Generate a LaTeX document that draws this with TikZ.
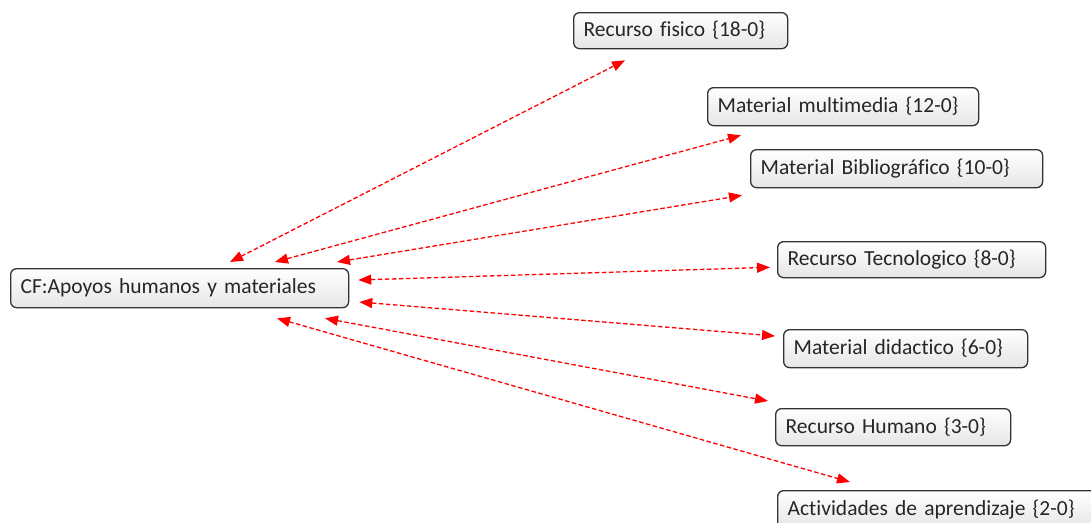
\documentclass[tikz,border=0pt]{standalone}
\usepackage{fontspec}
\setmainfont{Carlito}[Ligatures={NoCommon}]
\usetikzlibrary{arrows.meta,calc}
\tikzset{
  box/.style={draw=black!80, line width=1.3pt, rounded corners=6pt,
    top color=white, bottom color=black!10, anchor=north west,
    inner xsep=10pt, inner ysep=0pt, align=left, text=black!85,
    font=\fontsize{21.5}{24}\selectfont},
  link/.style={draw=red, line width=1.3pt, dash pattern=on 4.5pt off 2.5pt,
    {Triangle[length=13pt,width=10pt]}-{Triangle[length=13pt,width=10pt]}, fill=none}
}
\begin{document}
\begin{tikzpicture}[x=1pt,y=-1pt]
\useasboundingbox (0,0) rectangle (1091,522);
\clip (0,0) rectangle (1091,522);
\node[box, minimum width=338pt, minimum height=39pt, text width=318pt] (main) at (10,268) {CF:Apoyos humanos y materiales};
\node[box, minimum width=214pt, minimum height=36pt, text width=194pt] (fisico) at (573,12) {Recurso fisico \{18-0\}};
\node[box, minimum width=271pt, minimum height=38pt, text width=251pt] (multi) at (707,87) {Material multimedia \{12-0\}};
\node[box, minimum width=292pt, minimum height=38pt, text width=272pt] (biblio) at (750,149) {Material Bibliográfico \{10-0\}};
\node[box, minimum width=268pt, minimum height=36pt, text width=248pt] (tecno) at (777,241) {Recurso Tecnologico \{8-0\}};
\node[box, minimum width=244pt, minimum height=38pt, text width=224pt] (didac) at (783,329) {Material didactico \{6-0\}};
\node[box, minimum width=235pt, minimum height=37pt, text width=215pt] (humano) at (775,408) {Recurso Humano \{3-0\}};
\node[box, minimum width=340pt, minimum height=38pt, text width=320pt] (activ) at (777,490) {Actividades de aprendizaje \{2-0\}};

\draw[link] ([shift={(220,-6)}]main.north west) -- ([shift={(52,11)}]fisico.south west);
\draw[link] ([shift={(265,-6)}]main.north west) -- ([shift={(34,9)}]multi.south west);
\draw[link] ([shift={(327,-6)}]main.north west) -- ([shift={(-8,7)}]biblio.south west);
\draw[link] ([shift={(9,12)}]main.north east) -- ([shift={(-7,-11)}]tecno.south west);
\draw[link] ([shift={(10,34)}]main.north east) -- ([shift={(-8,7)}]didac.north west);
\draw[link] ([shift={(315,10)}]main.south west) -- ([shift={(-7,-7)}]humano.north west);
\draw[link] ([shift={(267,10)}]main.south west) -- ([shift={(73,-8)}]activ.north west);
\end{tikzpicture}
\end{document}
